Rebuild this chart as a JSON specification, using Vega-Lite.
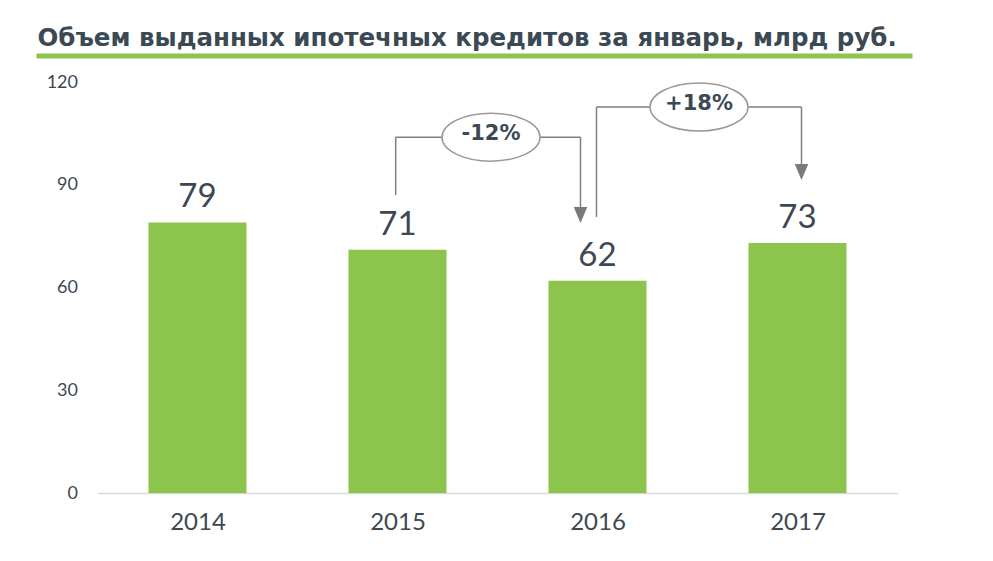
{
  "$schema": "https://vega.github.io/schema/vega-lite/v6.json",
  "autosize": "none",
  "width": 800,
  "height": 411,
  "padding": {"left": 97.5, "top": 82, "right": 95.5, "bottom": 68},
  "background": "white",
  "config": {"view": {"stroke": null}, "scale": {"continuousPadding": 0}},
  "title": {
    "text": "Объем выданных ипотечных кредитов за январь, млрд руб.",
    "anchor": "start",
    "frame": "group",
    "dx": -60,
    "offset": 2,
    "font": "DejaVu Sans",
    "fontWeight": "bold",
    "fontSize": 24.5,
    "color": "#3b4955"
  },
  "datasets": {
    "bars": [
      {"year": 2014, "value": 79},
      {"year": 2015, "value": 71},
      {"year": 2016, "value": 62},
      {"year": 2017, "value": 73}
    ],
    "titleLine": [{"x": 2013.195, "x2": 2017.575, "y": 127.6}],
    "brackets": [
      {"x": 2014.991, "x2": 2014.991, "y": 87.0, "y2": 103.9},
      {"x": 2014.991, "x2": 2015.915, "y": 103.9, "y2": 103.9},
      {"x": 2015.915, "x2": 2015.915, "y": 103.9, "y2": 83.5},
      {"x": 2015.995, "x2": 2015.995, "y": 80.6, "y2": 112.7},
      {"x": 2015.995, "x2": 2017.02, "y": 112.7, "y2": 112.7},
      {"x": 2017.02, "x2": 2017.02, "y": 112.7, "y2": 96.0}
    ],
    "arrows": [
      {"x": 2015.915, "y": 81.2},
      {"x": 2017.02, "y": 93.7}
    ],
    "badges": [
      {"x": 2015.4675, "y": 103.9, "label": "-12%"},
      {"x": 2016.5075, "y": 112.7, "label": "+18%"}
    ]
  },
  "layer": [
    {
      "data": {"name": "titleLine"},
      "mark": {"type": "rule", "color": "#8dc44e", "strokeWidth": 5},
      "encoding": {
        "x": {"field": "x", "type": "quantitative"},
        "x2": {"field": "x2"},
        "y": {"field": "y", "type": "quantitative"}
      }
    },
    {
      "data": {"name": "bars"},
      "mark": {"type": "bar", "color": "#8dc44e", "size": 98},
      "encoding": {
        "x": {
          "field": "year",
          "type": "quantitative",
          "scale": {"domain": [2013.5, 2017.5], "nice": false, "zero": false, "padding": 0},
          "axis": {
            "title": null,
            "values": [2014, 2015, 2016, 2017],
            "format": "d",
            "grid": false,
            "ticks": false,
            "domainColor": "#d9d9d9",
            "domainWidth": 1.5,
            "labelFont": "Lato",
            "labelFontSize": 24,
            "labelColor": "#3d4852",
            "labelPadding": 17
          }
        },
        "y": {
          "field": "value",
          "type": "quantitative",
          "scale": {"domain": [0, 120], "nice": false, "padding": 0},
          "axis": {
            "title": null,
            "values": [0, 30, 60, 90, 120],
            "grid": false,
            "ticks": false,
            "domain": false,
            "labelFont": "Lato",
            "labelFontSize": 18,
            "labelColor": "#3d4852",
            "labelPadding": 20
          }
        }
      }
    },
    {
      "data": {"name": "bars"},
      "mark": {"type": "text", "font": "Lato", "fontSize": 33, "color": "#3d4852", "baseline": "alphabetic", "dy": -15},
      "encoding": {
        "x": {"field": "year", "type": "quantitative"},
        "y": {"field": "value", "type": "quantitative"},
        "text": {"field": "value", "type": "quantitative"}
      }
    },
    {
      "data": {"name": "brackets"},
      "mark": {"type": "rule", "color": "#808080", "strokeWidth": 1.5},
      "encoding": {
        "x": {"field": "x", "type": "quantitative"},
        "x2": {"field": "x2"},
        "y": {"field": "y", "type": "quantitative"},
        "y2": {"field": "y2"}
      }
    },
    {
      "data": {"name": "arrows"},
      "mark": {"type": "point", "shape": "M-0.85,-1L0.85,-1L0,1Z", "size": 256, "filled": true, "color": "#7a7a7a", "opacity": 1},
      "encoding": {
        "x": {"field": "x", "type": "quantitative"},
        "y": {"field": "y", "type": "quantitative"}
      }
    },
    {
      "data": {"name": "badges"},
      "mark": {"type": "point", "shape": "M-1,0A1,0.49 0 1,0 1,0A1,0.49 0 1,0 -1,0Z", "size": 9604, "filled": false, "fill": "white", "fillOpacity": 1, "stroke": "#9a9a9a", "strokeWidth": 1.5, "opacity": 1},
      "encoding": {
        "x": {"field": "x", "type": "quantitative"},
        "y": {"field": "y", "type": "quantitative"}
      }
    },
    {
      "data": {"name": "badges"},
      "mark": {"type": "text", "font": "DejaVu Sans", "fontWeight": "bold", "fontSize": 21, "color": "#3b4955", "baseline": "middle", "dy": -3},
      "encoding": {
        "x": {"field": "x", "type": "quantitative"},
        "y": {"field": "y", "type": "quantitative"},
        "text": {"field": "label"}
      }
    }
  ]
}
